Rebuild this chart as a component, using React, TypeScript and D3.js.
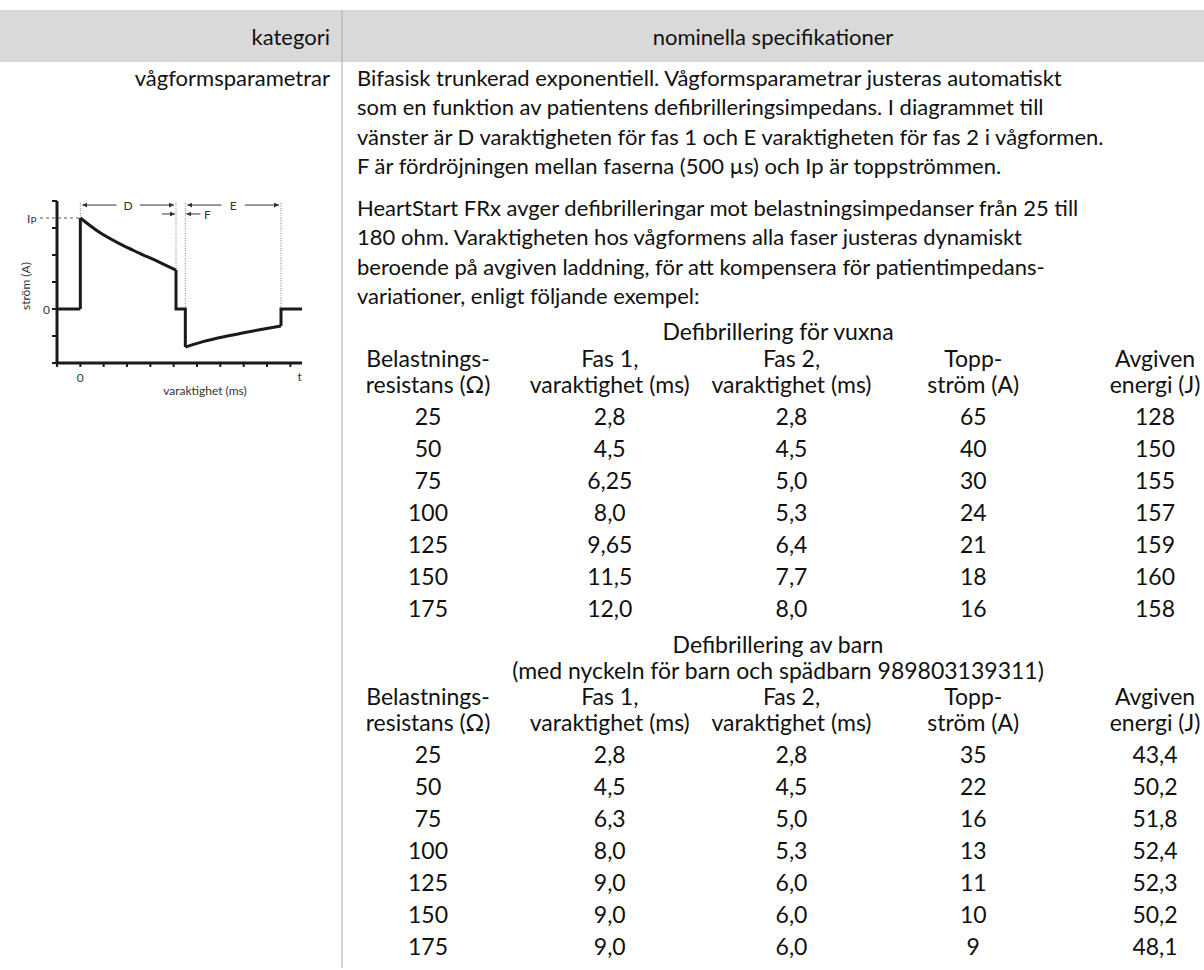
import React from "react";
import * as d3 from "d3";

// ---------- data ----------
const headerLabels = ["kategori", "nominella specifikationer"];
const categoryLabel = "vågformsparametrar";

const paragraph1 = [
  "Bifasisk trunkerad exponentiell. Vågformsparametrar justeras automatiskt",
  "som en funktion av patientens defibrilleringsimpedans. I diagrammet till",
  "vänster är D varaktigheten för fas 1 och E varaktigheten för fas 2 i vågformen.",
  "F är fördröjningen mellan faserna (500 µs) och Ip är toppströmmen.",
];
const paragraph2 = [
  "HeartStart FRx avger defibrilleringar mot belastningsimpedanser från 25 till",
  "180 ohm. Varaktigheten hos vågformens alla faser justeras dynamiskt",
  "beroende på avgiven laddning, för att kompensera för patientimpedans-",
  "variationer, enligt följande exempel:",
];

const columnHeaders = [
  ["Belastnings-", "resistans (Ω)"],
  ["Fas 1,", "varaktighet (ms)"],
  ["Fas 2,", "varaktighet (ms)"],
  ["Topp-", "ström (A)"],
  ["Avgiven", "energi (J)"],
];

const resistances = [25, 50, 75, 100, 125, 150, 175];

const adultTitle = ["Defibrillering för vuxna"];
const adultPhase1 = [2.8, 4.5, 6.25, 8.0, 9.65, 11.5, 12.0];
const adultPhase2 = [2.8, 4.5, 5.0, 5.3, 6.4, 7.7, 8.0];
const adultPeak = [65, 40, 30, 24, 21, 18, 16];
const adultEnergy = [128, 150, 155, 157, 159, 160, 158];

const childTitle = ["Defibrillering av barn", "(med nyckeln för barn och spädbarn 989803139311)"];
const childPhase1 = [2.8, 4.5, 6.3, 8.0, 9.0, 9.0, 9.0];
const childPhase2 = [2.8, 4.5, 5.0, 5.3, 6.0, 6.0, 6.0];
const childPeak = [35, 22, 16, 13, 11, 10, 9];
const childEnergy = [43.4, 50.2, 51.8, 52.4, 52.3, 50.2, 48.1];

// waveform (schematic), time in tick units, current in tick units
const baseT = [-1, 0];
const baseI = [0, 0];
const phase1T = [0, 0.8, 1.7, 2.5, 3.4, 4.1];
const phase1I = [3.37, 2.85, 2.41, 2.08, 1.73, 1.44];
const gapT = [4.1, 4.1, 4.5, 4.5];
const gapI = [1.44, 0, 0, -1.41];
const phase2T = [4.5, 5.3, 6.2, 7.0, 7.8, 8.6];
const phase2I = [-1.41, -1.2, -1.02, -0.88, -0.75, -0.63];
const tailT = [8.6, 8.6, 9.5];
const tailI = [-0.63, 0, 0];
const xTicks = [-1, 0, 1, 2, 3, 4, 5, 6, 7, 8, 9];
const yTicks = [-2, -1, 0, 1, 2, 3, 4];

// ---------- helpers ----------
const FONT = "Lato, 'Open Sans', 'DejaVu Sans', sans-serif";
const fmt = (v: number, dec: number) => d3.format(`.${dec}f`)(v).replace(".", ",");
const dec1or2 = (v: number) => (Math.abs(v * 10 - Math.round(v * 10)) > 1e-6 ? 2 : 1);

function Waveform() {
  const x = d3.scaleLinear().domain([-1, 9.5]).range([57, 302]);
  const y = d3.scaleLinear().domain([-2, 4]).range([363, 201]);
  const lin = d3.line<[number, number]>().x((d) => x(d[0])).y((d) => y(d[1]));
  const crv = d3
    .line<[number, number]>()
    .x((d) => x(d[0]))
    .y((d) => y(d[1]))
    .curve(d3.curveMonotoneX);
  const zip = (a: number[], b: number[]) => a.map((v, i) => [v, b[i]] as [number, number]);
  const ip = phase1I[0];
  const topY = y(3.93);
  const arrowY = y(3.85);
  const fY = y(3.52);
  const dotted = [
    { t: 0, v: ip },
    { t: 4.1, v: phase1I[phase1I.length - 1] },
    { t: 4.5, v: 0 },
    { t: 8.6, v: 0 },
  ];
  const wStyle = { fill: "none", stroke: "#1a1a1a", strokeWidth: 3, strokeLinejoin: "miter" as const };
  const small = { fontFamily: FONT, fontSize: 12, fill: "#333" };
  return (
    <g>
      <defs>
        <marker id="ah" viewBox="0 0 6 6" refX="6" refY="3" markerWidth="5" markerHeight="5" orient="auto-start-reverse">
          <path d="M0,0 L6,3 L0,6 z" fill="#333" />
        </marker>
      </defs>
      {/* axes */}
      <line x1={x(-1)} x2={x(-1)} y1={y(4)} y2={y(-2)} stroke="#1a1a1a" strokeWidth={3} />
      <line x1={x(-1) - 1.5} x2={x(9.5)} y1={y(-2)} y2={y(-2)} stroke="#1a1a1a" strokeWidth={3} />
      {yTicks.map((t) => (
        <line key={"yt" + t} x1={x(-1) - 5} x2={x(-1)} y1={y(t)} y2={y(t)} stroke="#1a1a1a" strokeWidth={2} />
      ))}
      {xTicks.map((t) => (
        <line key={"xt" + t} x1={x(t)} x2={x(t)} y1={y(-2)} y2={y(-2) + 4} stroke="#1a1a1a" strokeWidth={2} />
      ))}
      {/* dotted guides */}
      {dotted.map((d, i) => (
        <line key={"dg" + i} x1={x(d.t)} x2={x(d.t)} y1={topY} y2={y(d.v)} stroke="#777" strokeWidth={1} strokeDasharray="1,1.5" />
      ))}
      {/* Ip dashed */}
      <line x1={40} x2={x(0)} y1={y(ip)} y2={y(ip)} stroke="#555" strokeWidth={1} strokeDasharray="3,3" />
      {/* D arrow */}
      <line x1={x(1.55)} x2={x(0) + 2} y1={arrowY} y2={arrowY} stroke="#333" strokeWidth={1} markerEnd="url(#ah)" />
      <line x1={x(2.55)} x2={x(4.1) - 2} y1={arrowY} y2={arrowY} stroke="#333" strokeWidth={1} markerEnd="url(#ah)" />
      <text x={x(2.05)} y={arrowY} textAnchor="middle" dominantBaseline="central" {...small}>D</text>
      {/* E arrow */}
      <line x1={x(6.05)} x2={x(4.5) + 2} y1={arrowY} y2={arrowY} stroke="#333" strokeWidth={1} markerEnd="url(#ah)" />
      <line x1={x(7.05)} x2={x(8.6) - 2} y1={arrowY} y2={arrowY} stroke="#333" strokeWidth={1} markerEnd="url(#ah)" />
      <text x={x(6.55)} y={arrowY} textAnchor="middle" dominantBaseline="central" {...small}>E</text>
      {/* F arrows */}
      <line x1={x(3.5)} x2={x(4.1) - 1} y1={fY} y2={fY} stroke="#333" strokeWidth={1} markerEnd="url(#ah)" />
      <line x1={x(5.15)} x2={x(4.5) + 1} y1={fY} y2={fY} stroke="#333" strokeWidth={1} markerEnd="url(#ah)" />
      <text x={x(5.3)} y={fY + 1} dominantBaseline="central" {...small}>F</text>
      {/* waveform */}
      <path d={lin(zip(baseT, baseI)) || ""} {...wStyle} />
      <path d={lin([[0, 0], [0, ip]]) || ""} {...wStyle} />
      <path d={crv(zip(phase1T, phase1I)) || ""} {...wStyle} />
      <path d={lin(zip(gapT, gapI)) || ""} {...wStyle} />
      <path d={crv(zip(phase2T, phase2I)) || ""} {...wStyle} />
      <path d={lin(zip(tailT, tailI)) || ""} {...wStyle} />
      {/* labels */}
      <text x={27} y={y(ip)} dominantBaseline="central" {...small}>
        I<tspan fontSize={10} dy={2}>P</tspan>
      </text>
      <text x={50} y={y(0)} textAnchor="end" dominantBaseline="central" {...small}>0</text>
      <text transform={`translate(25,${y(0.85)}) rotate(-90)`} textAnchor="middle" dominantBaseline="central" {...small}>
        ström (A)
      </text>
      <text x={x(0)} y={377} textAnchor="middle" dominantBaseline="central" {...small}>0</text>
      <text x={x(9.4)} y={376} textAnchor="middle" dominantBaseline="central" {...small}>t</text>
      <text x={205} y={390} textAnchor="middle" dominantBaseline="central" {...small}>varaktighet (ms)</text>
    </g>
  );
}

function SpecTable({
  titles,
  titleYs,
  hdrY,
  rowRange,
  cols,
}: {
  titles: string[];
  titleYs: number[];
  hdrY: [number, number];
  rowRange: [number, number];
  cols: { values: number[]; dec: (v: number) => number }[];
}) {
  const cx = d3.scalePoint<number>().domain([0, 1, 2, 3, 4]).range([428, 1155]);
  const ry = d3.scalePoint<number>().domain(resistances).range(rowRange);
  const t = { fontFamily: FONT, fontSize: 23, fill: "#111", textAnchor: "middle" as const, dominantBaseline: "central" as const };
  return (
    <g>
      {titles.map((s, i) => (
        <text key={"t" + i} x={778} y={titleYs[i]} {...t}>{s}</text>
      ))}
      {columnHeaders.map((h, c) =>
        h.map((s, j) => (
          <text key={`h${c}${j}`} x={cx(c)} y={hdrY[j]} {...t}>{s}</text>
        ))
      )}
      {resistances.map((r) => (
        <text key={"r" + r} x={cx(0)} y={ry(r)} {...t}>{String(r)}</text>
      ))}
      {cols.map((col, c) =>
        col.values.map((v, i) => (
          <text key={`c${c}-${i}`} x={cx(c + 1)} y={ry(resistances[i])} {...t}>{fmt(v, col.dec(v))}</text>
        ))
      )}
    </g>
  );
}

export default function App() {
  const W = 1204;
  const H = 970;
  const L = 29.5;
  const p1 = 77;
  const p2 = 207;
  const txt = { fontFamily: FONT, fontSize: 22, fill: "#111", dominantBaseline: "central" as const };
  return (
    <div style={{ position: "absolute", left: 0, top: 0 }}>
      <svg width={W} height={H} style={{ display: "block", background: "#fff" }}>
        <rect x={0} y={10} width={W} height={52} fill="#d9d9d9" />
        <line x1={342} x2={342} y1={10} y2={968} stroke="#aaa" strokeWidth={1} />
        <text x={330} y={36} textAnchor="end" {...txt}>{headerLabels[0]}</text>
        <text x={773} y={36} textAnchor="middle" {...txt}>{headerLabels[1]}</text>
        <text x={330} y={p1} textAnchor="end" {...txt}>{categoryLabel}</text>
        {paragraph1.map((s, i) => (
          <text key={"a" + i} x={357} y={p1 + i * L} {...txt}>{s}</text>
        ))}
        {paragraph2.map((s, i) => (
          <text key={"b" + i} x={357} y={p2 + i * L} {...txt}>{s}</text>
        ))}
        <Waveform />
        <SpecTable
          titles={adultTitle}
          titleYs={[331]}
          hdrY={[358, 384]}
          rowRange={[416, 608]}
          cols={[
            { values: adultPhase1, dec: dec1or2 },
            { values: adultPhase2, dec: () => 1 },
            { values: adultPeak, dec: () => 0 },
            { values: adultEnergy, dec: () => 0 },
          ]}
        />
        <SpecTable
          titles={childTitle}
          titleYs={[644, 670]}
          hdrY={[696, 722]}
          rowRange={[754, 946]}
          cols={[
            { values: childPhase1, dec: () => 1 },
            { values: childPhase2, dec: () => 1 },
            { values: childPeak, dec: () => 0 },
            { values: childEnergy, dec: () => 1 },
          ]}
        />
      </svg>
    </div>
  );
}
